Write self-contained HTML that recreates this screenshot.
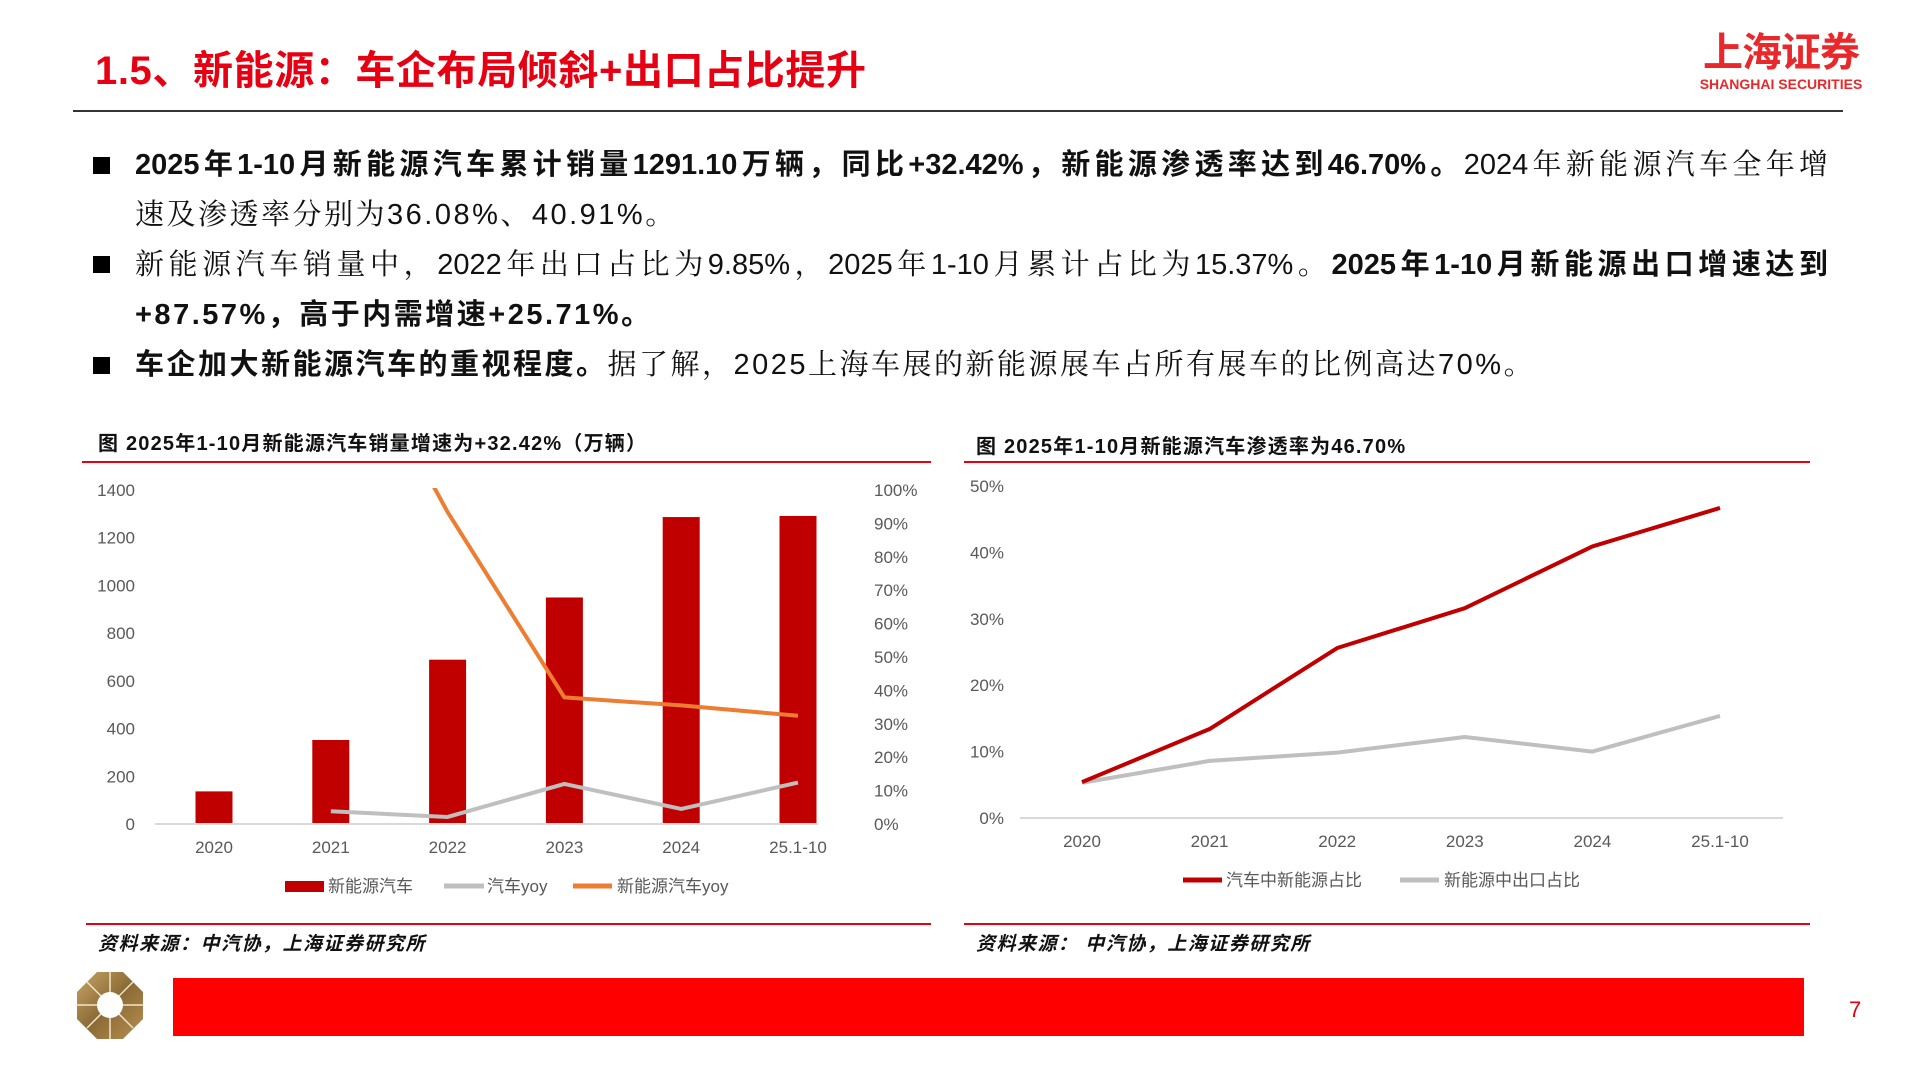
<!DOCTYPE html>
<html><head><meta charset="utf-8"><style>
body{margin:0;width:1920px;height:1080px;background:#fff;position:relative;overflow:hidden;font-family:"Liberation Sans","Noto Sans CJK SC",sans-serif}
.abs{position:absolute}
.title{left:95px;top:38px;font-size:40px;font-weight:bold;color:#e60012;white-space:nowrap;letter-spacing:0.6px}
.line{height:50px;line-height:50px;font-size:29px;color:#111;white-space:nowrap;font-family:"Liberation Sans","Noto Serif CJK SC",serif;letter-spacing:2.5px}
.just{text-align:justify;text-align-last:justify;white-space:normal;letter-spacing:0}
.sq{width:17px;height:17px;background:#000}
b{font-family:"Liberation Sans","Noto Sans CJK SC",sans-serif}
</style></head><body>
<div class="abs title">1.5、新能源：车企布局倾斜+出口占比提升</div>
<div class="abs" style="left:1696px;top:30px;width:170px;text-align:center;color:#e8282b">
<div style="font-size:40px;font-weight:bold;line-height:46px;letter-spacing:-1px">上海证券</div>
<div style="font-size:14px;line-height:16px;font-weight:bold">SHANGHAI SECURITIES</div></div>
<div class="abs" style="left:73px;top:110px;width:1770px;height:2px;background:#333"></div>

<div class="abs sq" style="left:93px;top:157px"></div>
<div class="abs line just" style="left:135px;top:140px;width:1693px"><b>2025年1-10月新能源汽车累计销量1291.10万辆，同比+32.42%，新能源渗透率达到46.70%。</b>2024年新能源汽车全年增</div>
<div class="abs line" style="left:135px;top:190px">速及渗透率分别为36.08%、40.91%。</div>
<div class="abs sq" style="left:93px;top:256px"></div>
<div class="abs line just" style="left:135px;top:240px;width:1693px">新能源汽车销量中，2022年出口占比为9.85%，2025年1-10月累计占比为15.37%。<b>2025年1-10月新能源出口增速达到</b></div>
<div class="abs line" style="left:135px;top:290px"><b>+87.57%，高于内需增速+25.71%。</b></div>
<div class="abs sq" style="left:93px;top:357px"></div>
<div class="abs line" style="left:135px;top:340px"><b>车企加大新能源汽车的重视程度。</b>据了解，2025上海车展的新能源展车占所有展车的比例高达70%。</div>

<svg class="abs" style="left:0;top:0" width="1920" height="1080" id="charts">
<defs><clipPath id="clipL"><rect x="150" y="488" width="680" height="340"/></clipPath>
<linearGradient id="gold" x1="0" y1="0" x2="1" y2="1"><stop offset="0" stop-color="#c9a567"/><stop offset="0.5" stop-color="#8a6a35"/><stop offset="1" stop-color="#b89050"/></linearGradient></defs>
<g id="left" font-size="17" fill="#595959"></g>
<g id="right" font-size="17" fill="#595959"></g>
<polygon points="97,972 123,972 143,992 143,1019 123,1039 97,1039 77,1019 77,992" fill="url(#gold)"/>
<g stroke="#f3e6c8" stroke-width="1.5"><line x1="110" y1="1005" x2="110" y2="972"/><line x1="110" y1="1005" x2="143" y2="1005"/><line x1="110" y1="1005" x2="110" y2="1039"/><line x1="110" y1="1005" x2="77" y2="1005"/><line x1="110" y1="1005" x2="87" y2="982"/><line x1="110" y1="1005" x2="133" y2="982"/><line x1="110" y1="1005" x2="133" y2="1028"/><line x1="110" y1="1005" x2="87" y2="1028"/></g>
<circle cx="110" cy="1005" r="13" fill="#fff"/>
<rect x="173" y="978" width="1631" height="58" fill="#ff0000"/>
<text x="1849" y="1017" font-size="22" fill="#e60012">7</text>
</svg>
<script>
const catsL=["2020","2021","2022","2023","2024","25.1-10"];
const nevSales=[136.7,352.1,688.7,949.5,1286.6,1291.1];
const carYoy=[null,3.8,2.1,12.0,4.5,12.4];
const nevYoy=[null,157.5,93.4,37.9,35.5,32.4];
const leftTicks=[0,200,400,600,800,1000,1200,1400];
const rightTicks=[0,10,20,30,40,50,60,70,80,90,100];
const catsR=["2020","2021","2022","2023","2024","25.1-10"];
const nevShare=[5.4,13.4,25.6,31.6,40.9,46.7];
const exportShare=[5.3,8.6,9.85,12.2,10.0,15.37];
const rTicks=[0,10,20,30,40,50];
const NS="http://www.w3.org/2000/svg";
function mk(p,t,a,txt){const e=document.createElementNS(NS,t);for(const k in a)e.setAttribute(k,a[k]);if(txt!=null)e.textContent=txt;p.appendChild(e);return e;}
const L=document.getElementById('left'),R=document.getElementById('right');
let t=mk(L,'text',{x:98,y:450,'font-size':20,'font-weight':'bold',fill:'#111','letter-spacing':'1.2'},'图  2025年1-10月新能源汽车销量增速为+32.42%（万辆）');


let r=mk(L,'rect',{x:82,y:461,width:849,height:2,fill:'#e60012'});


r=mk(L,'rect',{x:86,y:923,width:845,height:2,fill:'#e60012'});


t=mk(L,'text',{x:98,y:950,'font-size':19,'font-weight':'bold','font-style':'italic',fill:'#111','letter-spacing':'1.5'},'资料来源：中汽协，上海证券研究所');


const xL=i=>214+i*116.8, yL=v=>824-v/1400*334, yLR=v=>824-v/100*334;
leftTicks.forEach(v=>{const e=mk(L,'text',{x:135,y:yL(v)+6,'text-anchor':'end'},v);});
rightTicks.forEach(v=>{const e=mk(L,'text',{x:874,y:yLR(v)+6},v+'%');});
nevSales.forEach((v,i)=>{const e=mk(L,'rect',{x:xL(i)-18.5,y:yL(v),width:37,height:824-yL(v),fill:'#c00000'});});
let ax=mk(L,'line',{x1:155,y1:824,x2:818,y2:824,stroke:'#d9d9d9','stroke-width':2});


catsL.forEach((c,i)=>{const e=mk(L,'text',{x:xL(i),y:853,'text-anchor':'middle'},c);});
function path(vals,xf,yf){let d='';vals.forEach((v,i)=>{if(v==null)return;d+=(d?'L':'M')+xf(i)+','+yf(v);});return d;}
let p=mk(L,'path',{d:path(carYoy,xL,yLR),fill:'none',stroke:'#bfbfbf','stroke-width':4,'stroke-linejoin':'round'});


p=mk(L,'path',{d:path(nevYoy,xL,yLR),fill:'none',stroke:'#ed7d31','stroke-width':4,'stroke-linejoin':'round','clip-path':'url(#clipL)'});


let g=mk(L,'g',{});


mk(g,'rect',{x:285,y:881,width:39,height:11,fill:'#c00000'});
mk(g,'text',{x:328,y:892},'新能源汽车');
mk(g,'line',{x1:444,y1:886,x2:484,y2:886,stroke:'#bfbfbf','stroke-width':5});
mk(g,'text',{x:487,y:892},'汽车yoy');
mk(g,'line',{x1:573,y1:886,x2:612,y2:886,stroke:'#ed7d31','stroke-width':5});
mk(g,'text',{x:617,y:892},'新能源汽车yoy');
t=mk(R,'text',{x:976,y:453,'font-size':20,'font-weight':'bold',fill:'#111','letter-spacing':'1.2'},'图  2025年1-10月新能源汽车渗透率为46.70%');


r=mk(R,'rect',{x:964,y:461,width:846,height:2,fill:'#e60012'});


r=mk(R,'rect',{x:964,y:923,width:846,height:2,fill:'#e60012'});


t=mk(R,'text',{x:976,y:950,'font-size':19,'font-weight':'bold','font-style':'italic',fill:'#111','letter-spacing':'1.5'},'资料来源：  中汽协，上海证券研究所');


const xR=i=>1082+i*127.6, yR=v=>818-v/50*332;
rTicks.forEach(v=>{const e=mk(R,'text',{x:1004,y:yR(v)+6,'text-anchor':'end'},v+'%');});
ax=mk(R,'line',{x1:1020,y1:818,x2:1783,y2:818,stroke:'#d9d9d9','stroke-width':2});


catsR.forEach((c,i)=>{const e=mk(R,'text',{x:xR(i),y:847,'text-anchor':'middle'},c);});
p=mk(R,'path',{d:path(exportShare,xR,yR),fill:'none',stroke:'#bfbfbf','stroke-width':4,'stroke-linejoin':'round'});


p=mk(R,'path',{d:path(nevShare,xR,yR),fill:'none',stroke:'#c00000','stroke-width':4,'stroke-linejoin':'round'});


g=mk(R,'g',{});


mk(g,'line',{x1:1183,y1:880,x2:1222,y2:880,stroke:'#c00000','stroke-width':5});
mk(g,'text',{x:1226,y:886},'汽车中新能源占比');
mk(g,'line',{x1:1400,y1:880,x2:1439,y2:880,stroke:'#bfbfbf','stroke-width':5});
mk(g,'text',{x:1444,y:886},'新能源中出口占比');
</script>
</body></html>
